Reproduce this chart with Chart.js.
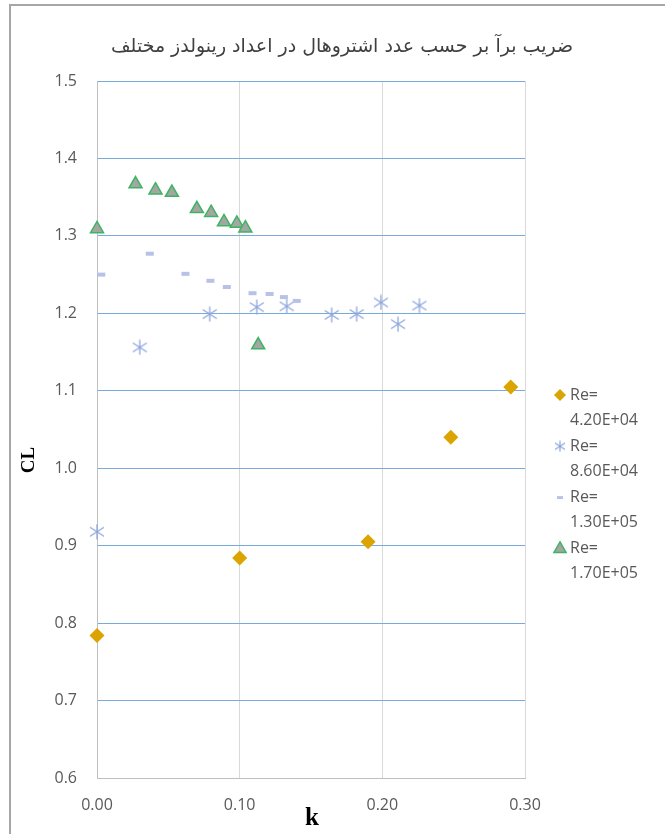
<!DOCTYPE html>
<html>
<head>
<meta charset="utf-8">
<script src="https://cdn.jsdelivr.net/npm/chart.js@4.4.0/dist/chart.umd.min.js"></script>
<style>
    html, body { margin: 0; padding: 0; background: #fff; }
    #wrap { width: 665px; height: 834px; position: relative; }
</style>
</head>
<body>
<div id="wrap"><canvas id="chart-cl"></canvas></div>
<script>
const chartTitle = "ضریب برآ بر حسب عدد اشتروهال در اعداد رینولدز مختلف";
const seriesNames = ["4.20E+04", "8.60E+04", "1.30E+05", "1.70E+05"];

// Re = 4.2E+04
const kRe42 = [0.0, 0.10, 0.19, 0.248, 0.29];
const clRe42 = [0.784, 0.884, 0.905, 1.04, 1.105];

// Re = 8.6E+04
const kRe86 = [0.0, 0.030, 0.079, 0.112, 0.133, 0.1645, 0.182, 0.199, 0.211, 0.226];
const clRe86 = [0.918, 1.156, 1.199, 1.208, 1.209, 1.198, 1.199, 1.214, 1.186, 1.21];

// Re = 1.3E+05
const kRe130 = [0.003, 0.037, 0.062, 0.0795, 0.091, 0.109, 0.121, 0.131, 0.14];
const clRe130 = [1.25, 1.277, 1.251, 1.242, 1.234, 1.226, 1.225, 1.221, 1.216];

// Re = 1.7E+05
const kRe170 = [0.0, 0.027, 0.041, 0.0525, 0.070, 0.080, 0.089, 0.098, 0.104, 0.113];
const clRe170 = [1.309, 1.367, 1.359, 1.356, 1.335, 1.33, 1.318, 1.316, 1.31, 1.159];

const xTicks = [0, 0.1, 0.2, 0.3];
const yTicks = [0.6, 0.7, 0.8, 0.9, 1.0, 1.1, 1.2, 1.3, 1.4, 1.5];

const toPoints = (xs, ys) => xs.map((x, i) => ({ x: x, y: ys[i] }));

function makeAsterisk(size, color, lw) {
    const c = document.createElement("canvas");
    c.width = size;
    c.height = size;
    const g = c.getContext("2d");
    const m = size / 2;
    g.strokeStyle = color;
    g.lineWidth = lw;
    g.beginPath();
    g.moveTo(m, 0.5);
    g.lineTo(m, size - 0.5);
    g.moveTo(1, size * 0.22);
    g.lineTo(size - 1, size * 0.78);
    g.moveTo(1, size * 0.78);
    g.lineTo(size - 1, size * 0.22);
    g.stroke();
    return c;
}
const asteriskBig = makeAsterisk(16, "#8ea6de", 1.3);
const asteriskSmall = makeAsterisk(12, "#8ea6de", 1.2);

const gray = "#595959";
const tickFont = { family: "'Open Sans'", size: 16 };

// frame round the chart
const framePlugin = {
    id: "frame",
    beforeDraw(chart) {
        const ctx = chart.ctx;
        ctx.save();
        ctx.fillStyle = "#fff";
        ctx.fillRect(0, 0, chart.width, chart.height);
        ctx.strokeStyle = "#a6a6a6";
        ctx.lineWidth = 2;
        ctx.beginPath();
        ctx.moveTo(10, chart.height);
        ctx.lineTo(10, 5);
        ctx.lineTo(chart.width, 5);
        ctx.stroke();
        ctx.restore();
    },
};

// title, axis titles + legend on the right
const textPlugin = {
    id: "texts",
    afterDraw(chart) {
        const ctx = chart.ctx;
        const area = chart.chartArea;

        ctx.save();
        ctx.fillStyle = "#404040";
        ctx.textAlign = "center";
        ctx.textBaseline = "middle";
        ctx.font = "19px 'DejaVu Sans'";
        ctx.fillText(chartTitle, 342, 47);
        ctx.restore();

        ctx.save();
        ctx.fillStyle = "#000";
        ctx.textAlign = "center";
        ctx.textBaseline = "middle";
        ctx.font = "bold 19px 'Liberation Serif'";
        ctx.translate(29, 460);
        ctx.rotate(-Math.PI / 2);
        ctx.fillText("CL", 0, 0);
        ctx.restore();

        ctx.save();
        ctx.fillStyle = "#000";
        ctx.textAlign = "center";
        ctx.textBaseline = "alphabetic";
        ctx.font = "bold 25px 'Liberation Serif'";
        ctx.fillText("k", (area.left + area.right) / 2 + 1, 825);
        ctx.restore();

        chart.data.datasets.forEach((ds, i) => {
            const y = 395 + i * 51.3;
            const x = 560;
            ctx.save();
            ctx.fillStyle = ds.backgroundColor;
            ctx.strokeStyle = ds.borderColor;
            ctx.lineWidth = ds.legendBorder;
            const style = ds.legendStyle || ds.pointStyle;
            Chart.helpers.drawPoint(
                ctx,
                { pointStyle: style, radius: ds.legendRadius, borderWidth: ds.legendBorder, rotation: 0 },
                x,
                y
            );
            ctx.restore();

            ctx.save();
            ctx.fillStyle = gray;
            ctx.font = "16px 'Open Sans'";
            ctx.textAlign = "left";
            ctx.textBaseline = "middle";
            ctx.fillText("Re=", 570, y);
            ctx.fillText(seriesNames[i], 570, y + 25);
            ctx.restore();
        });
    },
};

new Chart(document.getElementById("chart-cl"), {
    type: "scatter",
    data: {
        datasets: [
            {
                label: "Re= " + seriesNames[0],
                data: toPoints(kRe42, clRe42),
                pointStyle: "rectRot",
                pointRadius: 7.5,
                borderWidth: 0,
                backgroundColor: "#dca400",
                borderColor: "#dca400",
                legendRadius: 6,
                legendBorder: 0,
                order: 3,
                clip: false,
            },
            {
                label: "Re= " + seriesNames[1],
                data: toPoints(kRe86, clRe86),
                pointStyle: asteriskBig,
                legendStyle: asteriskSmall,
                pointRadius: 8,
                backgroundColor: "#8ea6de",
                borderColor: "#8ea6de",
                legendRadius: 6,
                legendBorder: 1,
                order: 2,
                clip: false,
            },
            {
                label: "Re= " + seriesNames[2],
                data: toPoints(kRe130, clRe130),
                pointStyle: "line",
                pointRadius: 4,
                borderWidth: 4,
                backgroundColor: "#b7c2e6",
                borderColor: "#b7c2e6",
                legendRadius: 3,
                legendBorder: 3,
                order: 1,
                clip: false,
            },
            {
                label: "Re= " + seriesNames[3],
                data: toPoints(kRe170, clRe170),
                pointStyle: "triangle",
                pointRadius: 7.5,
                borderWidth: 1.5,
                backgroundColor: "#a5a5a5",
                borderColor: "#3cb460",
                legendRadius: 7,
                legendBorder: 1.5,
                order: 0,
                clip: false,
            },
        ],
    },
    options: {
        responsive: true,
        maintainAspectRatio: false,
        animation: false,
        events: [],
        layout: { padding: { top: 81, right: 140, bottom: 0, left: 0 } },
        plugins: {
            legend: { display: false },
            tooltip: { enabled: false },
            title: { display: false },
        },
        scales: {
            x: {
                type: "linear",
                min: xTicks[0],
                max: xTicks[xTicks.length - 1],
                afterBuildTicks: (scale) => {
                    scale.ticks = xTicks.map((v) => ({ value: v }));
                },
                afterFit: (scale) => {
                    scale.height = 56;
                },
                ticks: {
                    color: gray,
                    font: tickFont,
                    padding: 18,
                    maxRotation: 0,
                    autoSkip: false,
                    callback: (v) => Number(v).toFixed(2),
                },
                grid: { color: "#d9d9d9", lineWidth: 1, drawTicks: false },
                border: { color: "#bfbfbf" },
            },
            y: {
                type: "linear",
                min: yTicks[0],
                max: yTicks[yTicks.length - 1],
                afterBuildTicks: (scale) => {
                    scale.ticks = yTicks.map((v) => ({ value: v }));
                },
                afterFit: (scale) => {
                    scale.width = 97;
                },
                ticks: {
                    color: gray,
                    font: tickFont,
                    padding: 20,
                    autoSkip: false,
                    callback: (v) => Number(v).toFixed(1),
                },
                grid: {
                    color: (ctx) =>
                        ctx.tick && Math.abs(ctx.tick.value - 0.6) < 1e-6 ? "#bfbfbf" : "#78aadd",
                    lineWidth: 1,
                    drawTicks: false,
                },
                border: { color: "#bfbfbf" },
            },
        },
    },
    plugins: [framePlugin, textPlugin],
});
</script>
</body>
</html>
